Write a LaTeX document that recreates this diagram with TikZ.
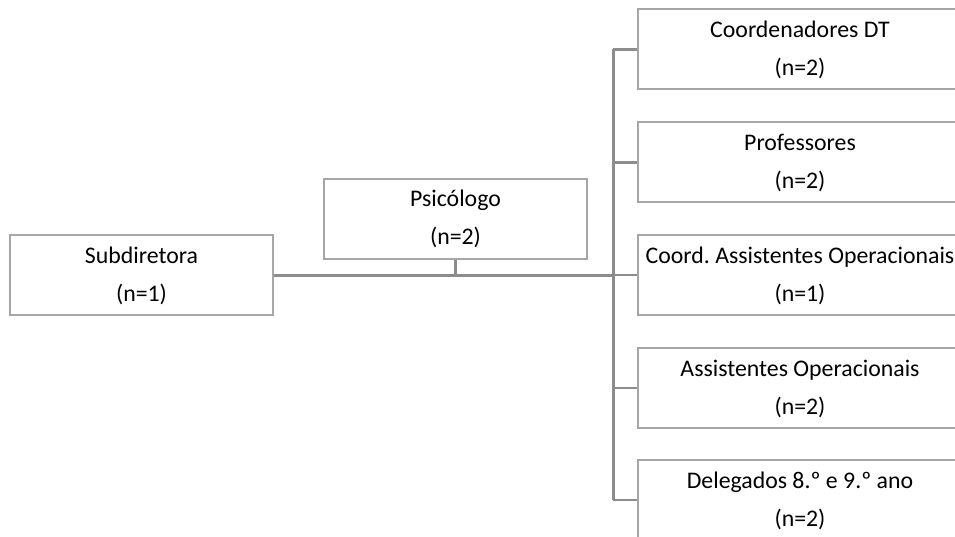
\documentclass[tikz,border=0pt]{standalone}
\usepackage{fontspec}
\setmainfont{Carlito}
\frenchspacing
\definecolor{boxgray}{HTML}{A6A6A6}
\definecolor{linegray}{HTML}{8C8C8C}
\newcommand\mystrut{\rule[-6pt]{0pt}{26pt}}
\begin{document}
\begin{tikzpicture}[x=1pt,y=-1pt,
  box/.style={draw=boxgray, line width=2pt, minimum width=#1, minimum height=80pt,
    inner sep=0pt, align=center, text=black, font=\fontsize{23.8}{38}\selectfont},
  mainline/.style={draw=linegray, line width=3pt},
  branchline/.style={draw=linegray, line width=2.2pt}]
\useasboundingbox (0,0) rectangle (955,537);
\clip (0,0) rectangle (955,537);
\node[box=263pt] (sub) at (141.5,275) {\mystrut Subdiretora\\\mystrut (n=1)};
\node[box=263pt] (psi) at (455.5,219) {\mystrut Psicólogo\\\mystrut (n=2)};
\node[box=324pt] (r1) at (800,49.5) {\mystrut Coordenadores DT\\\mystrut (n=2)};
\node[box=324pt] (r2) at (800,162.5) {\mystrut Professores\\\mystrut (n=2)};
\node[box=324pt] (r3) at (800,275) {\mystrut Coord. Assistentes Operacionais\\\mystrut (n=1)};
\node[box=324pt] (r4) at (800,388) {\mystrut Assistentes Operacionais\\\mystrut (n=2)};
\node[box=324pt] (r5) at (800,500) {\mystrut Delegados 8.º e 9.º ano\\\mystrut (n=2)};
\coordinate (j) at (613,275);
\draw[mainline] (sub.east) -- (j);
\draw[branchline] (psi.south) -- (psi.south |- j);
\draw[mainline] (j |- r1.west) -- (j |- r5.west);
\foreach \i in {1,...,5} \draw[branchline] (j |- r\i.west) -- (r\i.west);
\end{tikzpicture}
\end{document}
